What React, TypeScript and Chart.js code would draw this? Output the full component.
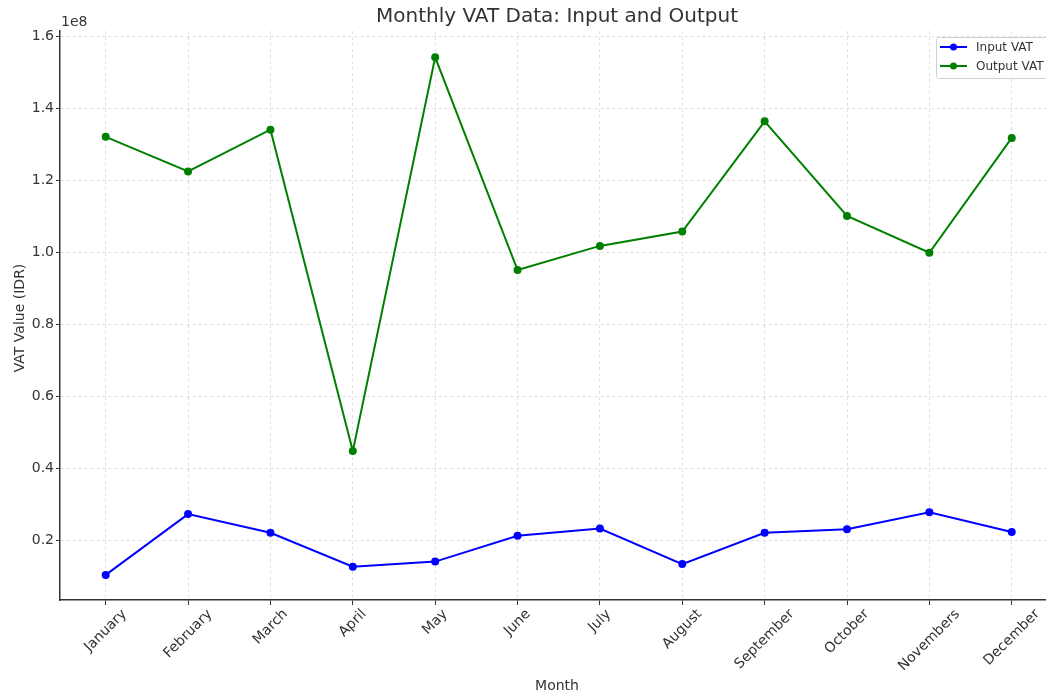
import React, { useEffect, useRef } from "react";
import { Chart, registerables } from "chart.js";

Chart.register(...registerables);

const months = [
  "January", "February", "March", "April", "May", "June",
  "July", "August", "September", "October", "Novembers", "December",
];
const inputVat = [
  10300000, 27200000, 22000000, 12600000, 14000000, 21200000,
  23200000, 13300000, 22000000, 23000000, 27700000, 22200000,
];
const outputVat = [
  132000000, 122400000, 134000000, 44700000, 154100000, 95000000,
  101700000, 105700000, 136300000, 110000000, 99800000, 131700000,
];
const yTicks = [20000000, 40000000, 60000000, 80000000, 100000000, 120000000, 140000000, 160000000];

const FONT = "'DejaVu Sans', sans-serif";
const TEXT = "#333333";

const overlay = {
  id: "overlay",
  afterDraw(chart: any) {
    const ctx = chart.ctx as CanvasRenderingContext2D;
    const xs = chart.scales.x;
    const area = chart.chartArea;
    ctx.save();
    ctx.fillStyle = TEXT;
    // Title
    ctx.font = `20px ${FONT}`;
    ctx.textAlign = "center";
    ctx.textBaseline = "middle";
    ctx.fillText("Monthly VAT Data: Input and Output", 557, 17);
    // offset text
    ctx.font = `14px ${FONT}`;
    ctx.textAlign = "left";
    ctx.fillText("1e8", 61, 22);
    // x labels rotated
    ctx.font = `14px ${FONT}`;
    months.forEach((m, i) => {
      const x = xs.getPixelForValue(i);
      const w = ctx.measureText(m).width;
      const h = 14;
      const bb = (w + h) * Math.SQRT1_2;
      const cy = area.bottom + 7 + bb / 2;
      ctx.save();
      ctx.translate(x, cy);
      ctx.rotate(-Math.PI / 4);
      ctx.textAlign = "center";
      ctx.textBaseline = "middle";
      ctx.fillText(m, 0, 0);
      ctx.restore();
    });
    // axis titles
    ctx.textAlign = "center";
    ctx.textBaseline = "middle";
    ctx.fillText("Month", 557, 686);
    ctx.save();
    ctx.translate(20, 318);
    ctx.rotate(-Math.PI / 2);
    ctx.fillText("VAT Value (IDR)", 0, 0);
    ctx.restore();
    // legend
    const lx = 936, ly = 37, lw = 120, lh = 41;
    ctx.beginPath();
    ctx.roundRect(lx + 0.5, ly + 0.5, lw, lh, 3);
    ctx.fillStyle = "rgba(255,255,255,0.85)";
    ctx.fill();
    ctx.strokeStyle = "#d0d0d0";
    ctx.lineWidth = 1;
    ctx.stroke();
    const items = [
      { label: "Input VAT", color: "#0000ff", y: 47 },
      { label: "Output VAT", color: "#008000", y: 66 },
    ];
    ctx.font = `12px ${FONT}`;
    ctx.textAlign = "left";
    items.forEach((it) => {
      ctx.strokeStyle = it.color;
      ctx.lineWidth = 2;
      ctx.beginPath();
      ctx.moveTo(940, it.y);
      ctx.lineTo(967, it.y);
      ctx.stroke();
      ctx.fillStyle = it.color;
      ctx.beginPath();
      ctx.arc(953.5, it.y, 3.5, 0, Math.PI * 2);
      ctx.fill();
      ctx.fillStyle = TEXT;
      ctx.fillText(it.label, 976, it.y + 0.5);
    });
    ctx.restore();
  },
};

export default function App() {
  const ref = useRef<HTMLCanvasElement>(null);
  useEffect(() => {
    if (!ref.current) return;
    const chart = new Chart(ref.current, {
      type: "line",
      data: {
        datasets: [
          {
            label: "Input VAT",
            data: inputVat.map((v, i) => ({ x: i, y: v })),
            borderColor: "#0000ff",
            backgroundColor: "#0000ff",
            borderWidth: 2,
            pointRadius: 4,
            pointHoverRadius: 4,
            pointBorderWidth: 0,
            tension: 0,
          },
          {
            label: "Output VAT",
            data: outputVat.map((v, i) => ({ x: i, y: v })),
            borderColor: "#008000",
            backgroundColor: "#008000",
            borderWidth: 2,
            pointRadius: 4,
            pointHoverRadius: 4,
            pointBorderWidth: 0,
            tension: 0,
          },
        ],
      },
      plugins: [overlay],
      options: {
        animation: false,
        responsive: false,
        devicePixelRatio: 1,
        layout: { autoPadding: false, padding: { top: 31, left: 0, right: 0, bottom: 0 } },
        plugins: { legend: { display: false }, title: { display: false }, tooltip: { enabled: false } },
        scales: {
          x: {
            type: "linear",
            min: -0.555,
            max: 11.416,
            afterFit: (s: any) => { s.height = 95; },
            afterBuildTicks: (s: any) => { s.ticks = months.map((_, i) => ({ value: i })); },
            ticks: { display: false },
            grid: {
              color: "rgba(0,0,0,0.16)",
              lineWidth: 0.8,
              drawTicks: true,
              tickLength: 5,
              tickColor: "#333333",
              tickWidth: 1,
              tickBorderDash: [],
            },
            border: { display: true, color: "#333333", width: 1.5, dash: [3, 3] },
          },
          y: {
            type: "linear",
            min: 3333333,
            max: 161400000,
            afterFit: (s: any) => { s.width = 60; },
            afterBuildTicks: (s: any) => { s.ticks = yTicks.map((v) => ({ value: v })); },
            ticks: {
              color: TEXT,
              font: { family: FONT, size: 14 },
              padding: 2,
              callback: (v: any) => (Number(v) / 1e8).toFixed(1),
            },
            grid: {
              color: "rgba(0,0,0,0.16)",
              lineWidth: 0.8,
              drawTicks: true,
              tickLength: 4,
              tickColor: "#333333",
              tickWidth: 1,
              tickBorderDash: [],
            },
            border: { display: true, color: "#333333", width: 1.5, dash: [3, 3] },
          },
        },
      },
    });
    return () => chart.destroy();
  }, []);
  return (
    <div style={{ position: "fixed", left: 0, top: 0, width: 1046, height: 695, background: "#fff" }}>
      <canvas ref={ref} width={1046} height={695} style={{ width: 1046, height: 695, display: "block" }} />
    </div>
  );
}
